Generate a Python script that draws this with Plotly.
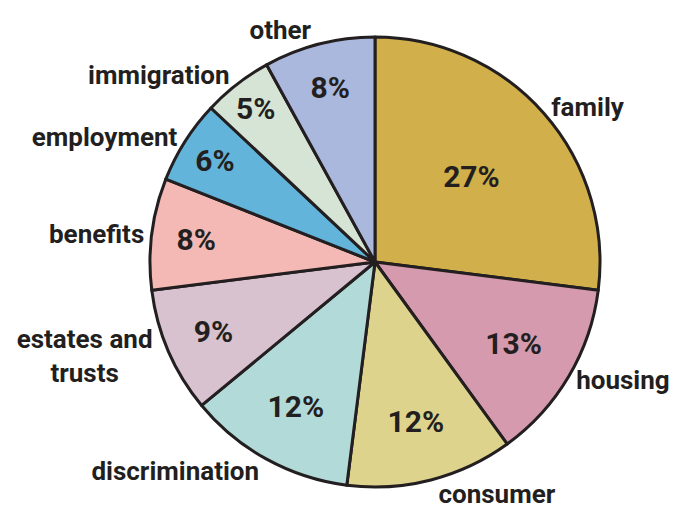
import plotly.graph_objects as go

categories = ["family", "housing", "consumer", "discrimination", "estates and<br>trusts",
              "benefits", "employment", "immigration", "other"]
shares = [27, 13, 12, 12, 9, 8, 6, 5, 8]
colors = ["#D1AF4A", "#D69AAE", "#DED38C", "#B2DAD8", "#D8C2CF",
          "#F4B9B4", "#62B4DA", "#D6E4D6", "#ABB8DD"]

FONT = "Roboto, 'Open Sans', sans-serif"
W, H = 678, 512
OFF = 8  # page margin of the html body
cx, cy, r = 375 - OFF, 262 - OFF, 225
domain = dict(x=[(cx - r) / W, (cx + r) / W], y=[(H - (cy + r)) / H, (H - (cy - r)) / H])

fig = go.Figure()
fig.add_trace(go.Pie(
    labels=categories, values=shares, sort=False, direction="clockwise", rotation=0,
    marker=dict(colors=colors, line=dict(color="#231F20", width=3)),
    texttemplate="%{value}%", textposition="inside", insidetextorientation="horizontal",
    textfont=dict(family=FONT, size=30, color="#231F20", weight="bold"),
    domain=domain, showlegend=False, hoverinfo="skip",
))
fig.add_trace(go.Pie(
    labels=categories, values=shares, sort=False, direction="clockwise", rotation=0,
    marker=dict(colors=["rgba(0,0,0,0)"] * len(shares), line=dict(width=0)),
    texttemplate="%{label}", textposition="outside",
    textfont=dict(family=FONT, size=26, color="#231F20", weight="bold"),
    domain=domain, showlegend=False, hoverinfo="skip",
))
fig.update_layout(
    width=W, height=H, margin=dict(l=0, r=0, t=0, b=0),
    paper_bgcolor="white", plot_bgcolor="white",
)
fig.write_html("out.html")
